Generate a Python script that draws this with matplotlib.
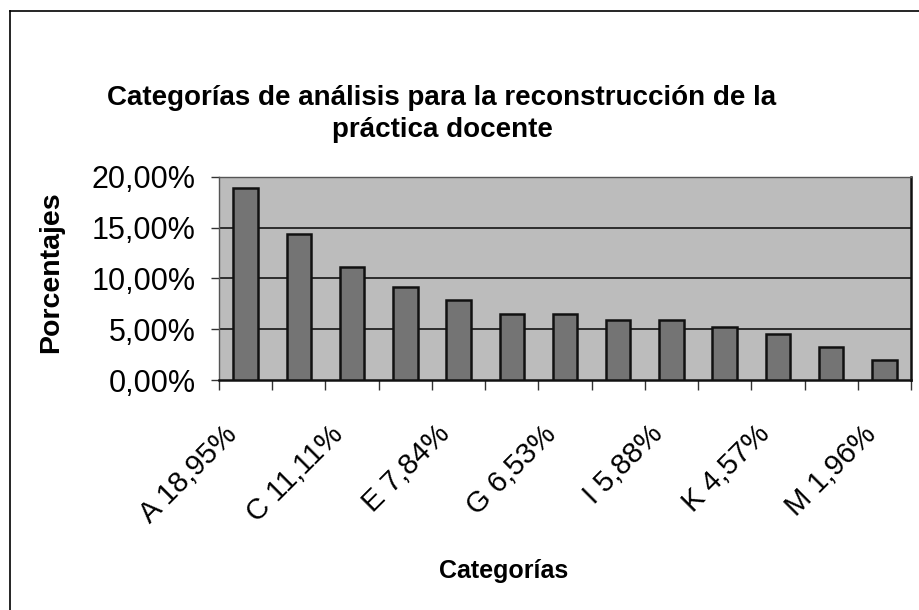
import matplotlib
matplotlib.use("Agg")
import matplotlib.pyplot as plt
import matplotlib.transforms as mtransforms
from matplotlib.lines import Line2D

plt.rcParams['font.family'] = ['Liberation Sans', 'DejaVu Sans']

categories = ["A", "B", "C", "D", "E", "F", "G", "H", "I", "J", "K", "L", "M"]
values = [18.95, 14.38, 11.11, 9.15, 7.84, 6.54, 6.53, 5.88, 5.88, 5.23, 4.57, 3.27, 1.96]
tick_labels = ["A 18,95%", "C 11,11%", "E 7,84%", "G 6,53%", "I 5,88%", "K 4,57%", "M 1,96%"]
y_ticks = [0, 5, 10, 15, 20]
y_tick_labels = ["0,00%", "5,00%", "10,00%", "15,00%", "20,00%"]
title = "Categorías de análisis para la reconstrucción de la\npráctica docente"
xlabel = "Categorías"
ylabel = "Porcentajes"

W, H = 919, 610
fig = plt.figure(figsize=(W / 100, H / 100), dpi=100)
fig.patch.set_facecolor("white")

def fx(px):
    return px / W

def fy(py):
    return 1 - py / H

left, right, top, bottom = 219, 911, 177, 380
ax = fig.add_axes([fx(left), fy(bottom), fx(right - left), (bottom - top) / H])
ax.set_facecolor("#bcbcbc")

x = list(range(len(categories)))
ax.bar(x, values, width=0.46, color="#747474", edgecolor="#111111", linewidth=1.8, zorder=3)

ax.set_xlim(-0.5, len(categories) - 0.5)
ax.set_ylim(0, 20)
ax.set_yticks(y_ticks)
ax.set_yticklabels(y_tick_labels, fontsize=22)
for yv in y_ticks[1:]:
    ax.axhline(yv, color="#222222", linewidth=1.3, zorder=1)

# category boundary ticks
ax.set_xticks([i - 0.5 for i in range(len(categories) + 1)], minor=True)
ax.tick_params(axis="x", which="minor", length=7, width=1, color="#333333", direction="out")
ax.set_xticks(x[::2])
ax.set_xticklabels(tick_labels, fontsize=21, rotation=45, ha="right", va="center",
                   rotation_mode="anchor")
ax.tick_params(axis="x", which="major", length=0, pad=36)
offset = mtransforms.ScaledTranslation(-13 / 100, 0, fig.dpi_scale_trans)
for lbl in ax.get_xticklabels():
    lbl.set_transform(lbl.get_transform() + offset)
ax.tick_params(axis="y", length=6, width=1, color="#333333", pad=11)

for side in ["top", "left"]:
    ax.spines[side].set_color("#555555")
    ax.spines[side].set_linewidth(1.0)
for side in ["bottom", "right"]:
    ax.spines[side].set_color("#111111")
    ax.spines[side].set_linewidth(1.8)

fig.text(fx(442), fy(85), title, ha="center", va="top", fontsize=20,
         fontweight="bold", linespacing=1.3)
fig.text(fx(51), fy(272), ylabel, ha="center", va="center", rotation=90,
         fontsize=20.5, fontweight="bold")
fig.text(fx(504), fy(571), xlabel, ha="center", va="center", fontsize=18,
         fontweight="bold")

# chart area border (left and top edges visible)
fig.add_artist(Line2D([fx(10), fx(10)], [fy(11), 0], color="black", linewidth=1.2,
                      transform=fig.transFigure))
fig.add_artist(Line2D([fx(10), 1], [fy(11), fy(11)], color="black", linewidth=1.2,
                      transform=fig.transFigure))

fig.savefig("out.png", dpi=100)
